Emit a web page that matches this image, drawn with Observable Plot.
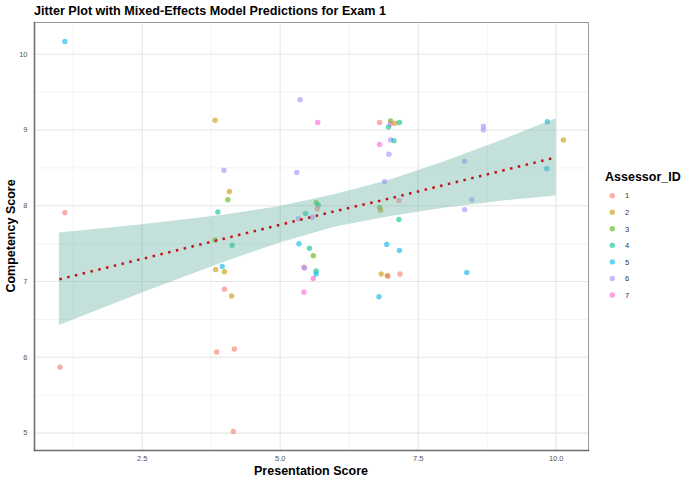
<!DOCTYPE html>
<html>
<head>
<meta charset="utf-8">
<script src="https://cdn.jsdelivr.net/npm/d3@7"></script>
<script src="https://cdn.jsdelivr.net/npm/@observablehq/plot@0.6"></script>
<style>
  html, body { margin: 0; padding: 0; background: #fff; }
  #chart svg { display: block; font-family: "Liberation Sans", Arial, sans-serif; }
</style>
</head>
<body>
<div id="chart"></div>
<script>
// ---- data ----
const assessors = ["1", "2", "3", "4", "5", "6", "7"];
const assessorColors = ["#F8766D", "#C49A00", "#53B400", "#00C094", "#00B6EB", "#A58AFF", "#FB61D7"];

const pointX = [1.10, 1.10, 1.01, 3.82, 5.36, 5.68, 3.98, 5.30, 4.08, 4.05,
  3.87, 3.82, 4.13, 5.65, 5.69, 5.67, 5.46, 5.33, 5.58, 5.34,
  5.53, 3.95, 3.83, 3.99, 3.99, 4.12, 3.85, 4.17, 4.15, 5.60,
  5.43, 5.44, 5.65, 5.65, 5.60, 5.43, 6.80, 7.00, 7.00, 7.08,
  7.16, 6.96, 7.00, 7.06, 6.80, 6.97, 6.89, 6.80, 6.82, 7.15,
  7.15, 6.93, 7.16, 6.83, 6.94, 6.95, 7.17, 6.79, 8.68, 8.68,
  9.84, 10.13, 8.34, 9.83, 8.47, 8.34, 8.38];
const pointY = [10.17, 7.91, 5.87, 9.13, 9.40, 9.10, 8.47, 8.44, 8.19, 8.08,
  7.92, 7.55, 7.48, 8.04, 8.01, 7.96, 7.90, 7.83, 7.85, 7.50,
  7.44, 7.20, 7.16, 7.13, 6.90, 6.81, 6.07, 6.11, 5.02, 7.34,
  7.19, 7.18, 7.14, 7.10, 7.04, 6.86, 9.10, 9.12, 9.08, 9.09,
  9.10, 9.04, 8.87, 8.86, 8.81, 8.68, 8.32, 7.98, 7.94, 8.07,
  7.82, 7.49, 7.41, 7.10, 7.08, 7.07, 7.10, 6.80, 9.05, 9.00,
  9.11, 8.87, 8.59, 8.49, 8.08, 7.95, 7.12];
const pointAssessor = ["5", "1", "1", "2", "6", "7", "6", "6", "2", "3",
  "4", "3", "4", "3", "4", "1", "4", "6", "6", "5",
  "4", "5", "2", "2", "1", "2", "1", "1", "1", "3",
  "1", "6", "4", "5", "7", "7", "1", "3", "7", "2",
  "4", "4", "6", "4", "7", "6", "6", "3", "2", "1",
  "4", "5", "5", "2", "2", "1", "1", "5", "6", "6",
  "5", "2", "6", "5", "6", "6", "5"];

const fitX     = [1, 2.5, 4, 5, 6, 7, 8, 9, 10];
const fitY     = [7.03, 7.30, 7.57, 7.75, 7.93, 8.10, 8.28, 8.46, 8.64];
const fitLower = [6.42, 6.85, 7.26, 7.51, 7.72, 7.86, 7.97, 8.06, 8.13];
const fitUpper = [7.64, 7.75, 7.88, 7.99, 8.15, 8.34, 8.59, 8.86, 9.15];

const xTicks = [2.5, 5.0, 7.5, 10.0];
const xMinor = [1.25, 3.75, 6.25, 8.75];
const yTicks = [5, 6, 7, 8, 9, 10];
const yMinor = [5.5, 6.5, 7.5, 8.5, 9.5];

const titleText = "Jitter Plot with Mixed-Effects Model Predictions for Exam 1";
const xTitle = "Presentation Score";
const yTitle = "Competency Score";
const legendTitle = "Assessor_ID";

// ---- build tables ----
const points = pointX.map((x, i) => ({x, y: pointY[i], a: pointAssessor[i]}));
const fit = fitX.map((x, i) => ({x, y: fitY[i], lo: fitLower[i], hi: fitUpper[i]}));

const W = 685, H = 483;
const mL = 34, mR = 97, mT = 22, mB = 33;
const xDomain = [0.549, 10.585];
const yDomain = [4.77, 10.42];

const plot = Plot.plot({
  width: W, height: H,
  marginLeft: mL, marginRight: mR, marginTop: mT, marginBottom: mB,
  style: {background: "#fff", fontFamily: "Liberation Sans, Arial, sans-serif"},
  x: {domain: xDomain},
  y: {domain: yDomain},
  color: {domain: assessors, range: assessorColors},
  marks: [
    Plot.gridX(xMinor, {stroke: "#ececec", strokeOpacity: 1, strokeWidth: 0.6}),
    Plot.gridY(yMinor, {stroke: "#ececec", strokeOpacity: 1, strokeWidth: 0.6}),
    Plot.gridX(xTicks, {stroke: "#e6e6e6", strokeOpacity: 1, strokeWidth: 1.1}),
    Plot.gridY(yTicks, {stroke: "#e6e6e6", strokeOpacity: 1, strokeWidth: 1.1}),
    Plot.dot(points, {x: "x", y: "y", fill: "a", r: 2.7, fillOpacity: 0.6, stroke: null}),
    Plot.areaY(fit, {x: "x", y1: "lo", y2: "hi", fill: "#69b3a2", fillOpacity: 0.4}),
    Plot.lineY(fit, {x: "x", y: "y", stroke: "#c0141a", strokeWidth: 2.5, strokeDasharray: "2.5,5.5", strokeLinecap: "butt"}),
    Plot.frame({stroke: "#9a9a9a", strokeWidth: 1}),
    Plot.frame({anchor: "left", stroke: "#6e6e6e", strokeWidth: 1.6}),
    Plot.frame({anchor: "bottom", stroke: "#6e6e6e", strokeWidth: 1.6}),
    Plot.axisX(xTicks, {tickSize: 0, tickPadding: 5, fontSize: 7.5, color: "#555", tickFormat: d3.format(".1f"), label: null}),
    Plot.axisY(yTicks, {tickSize: 0, tickPadding: 7, fontSize: 7.5, color: "#555", tickFormat: d3.format("d"), label: null})
  ]
});

document.getElementById("chart").appendChild(plot);

const svg = d3.select(plot);
const font = "Liberation Sans, Arial, sans-serif";

svg.append("text")
  .attr("x", mL).attr("y", 15)
  .attr("text-anchor", "start")
  .attr("font-family", font).attr("font-size", 12.6).attr("font-weight", "bold")
  .attr("fill", "#000").text(titleText);

svg.append("text")
  .attr("x", (mL + W - mR) / 2).attr("y", 475)
  .attr("text-anchor", "middle")
  .attr("font-family", font).attr("font-size", 12.5).attr("font-weight", "bold")
  .attr("fill", "#000").text(xTitle);

svg.append("text")
  .attr("transform", `translate(15,${(mT + H - mB) / 2}) rotate(-90)`)
  .attr("text-anchor", "middle")
  .attr("font-family", font).attr("font-size", 12.5).attr("font-weight", "bold")
  .attr("fill", "#000").text(yTitle);

const color = plot.scale("color");
const lg = svg.append("g").attr("transform", "translate(605,0)");
lg.append("text")
  .attr("x", 0).attr("y", 181)
  .attr("text-anchor", "start")
  .attr("font-family", font).attr("font-size", 12.5).attr("font-weight", "bold")
  .attr("fill", "#000").text(legendTitle);
assessors.forEach((a, i) => {
  const cy = 195.7 + i * 16.55;
  lg.append("circle").attr("cx", 7.3).attr("cy", cy).attr("r", 2.7)
    .attr("fill", color.apply(a)).attr("fill-opacity", 0.6);
  lg.append("text").attr("x", 20).attr("y", cy + 2.7)
    .attr("text-anchor", "start")
    .attr("font-family", font).attr("font-size", 7.5).attr("fill", "#333").text(a);
});
</script>
</body>
</html>
